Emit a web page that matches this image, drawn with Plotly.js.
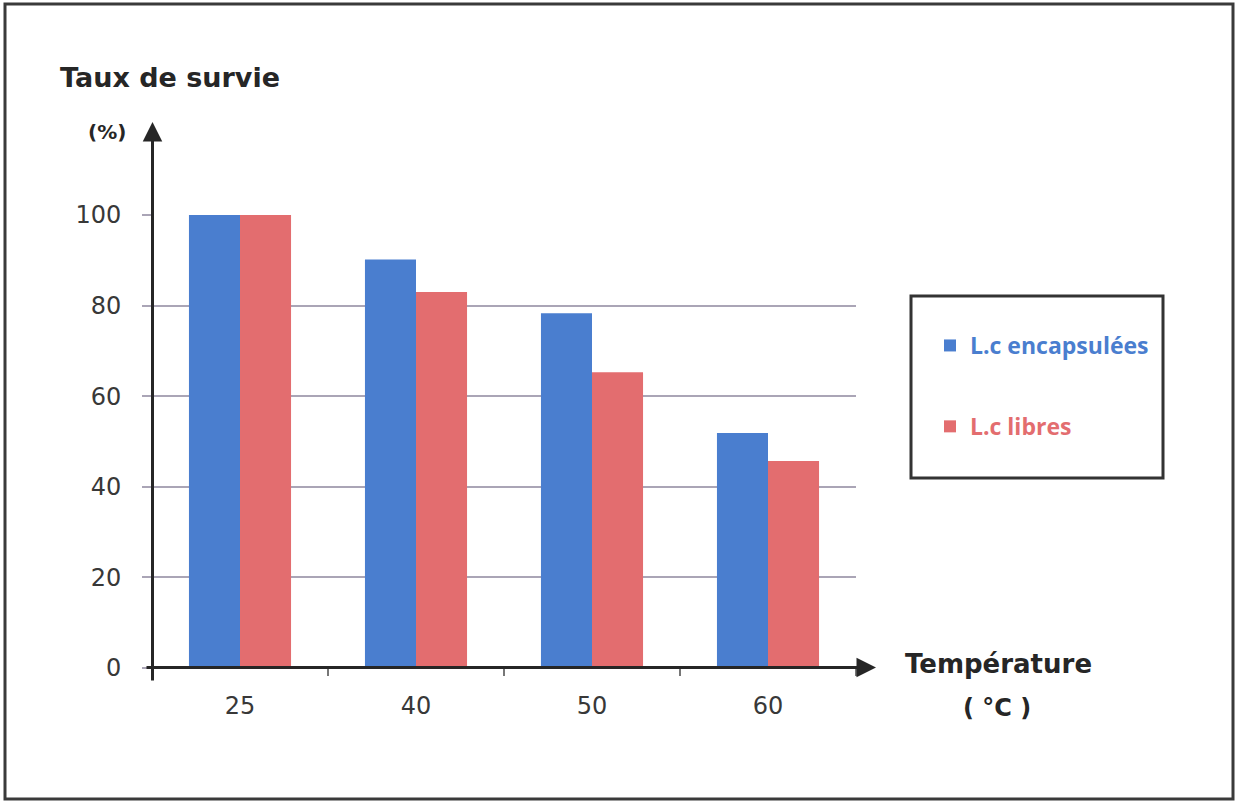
<!DOCTYPE html>
<html>
<head>
<meta charset="utf-8">
<script src="https://cdn.plot.ly/plotly-3.0.1.min.js"></script>
<style>
  html, body { margin: 0; padding: 0; background: #ffffff; }
  #chart { width: 1239px; height: 803px; }
</style>
</head>
<body>
<div id="chart"></div>
<script>
// Survival rate (%) of L.c cells after heat treatment at each temperature
const categories = ['25', '40', '50', '60'];
const encapsulees = [100, 90.2, 78.3, 51.9];
const libres = [100, 83.0, 65.3, 45.7];
const yTicks = [0, 20, 40, 60, 80, 100];
const seriesNames = ['L.c encapsulées', 'L.c libres'];

const W = 1239, H = 803;
const plotL = 152, plotR = 856, plotT = 215, plotB = 668;
const blue = '#4a7ecf';
const red = '#e36d6f';
const gridColor = '#aaa5b6';
const ink = '#262626';

// pixel -> paper helpers for the decorations
const px = x => (x - plotL) / (plotR - plotL);
const py = y => (plotB - y) / (plotB - plotT);

const traces = [
  {
    type: 'bar', x: categories, y: encapsulees,
    name: '<span style="color:' + blue + '">' + seriesNames[0] + '</span>',
    marker: { color: blue }, legendgroup: 'a', hoverinfo: 'y'
  },
  {
    type: 'bar', x: categories, y: libres,
    name: '<span style="color:' + red + '">' + seriesNames[1] + '</span>',
    marker: { color: red }, legendgroup: 'b', hoverinfo: 'y'
  }
];

const tickFont = { family: 'DejaVu Sans, sans-serif', size: 24, color: '#383838' };
const titleFont = size => ({ family: 'DejaVu Sans, sans-serif', size: size, color: ink });

const layout = {
  width: W, height: H,
  margin: { l: plotL, r: W - plotR, t: plotT, b: H - plotB },
  paper_bgcolor: '#ffffff', plot_bgcolor: '#ffffff',
  barmode: 'group', bargap: 0.42, bargroupgap: 0,
  font: { family: 'DejaVu Sans, sans-serif', color: '#333333' },
  xaxis: {
    type: 'category', range: [-0.5, 3.5],
    showline: false, showgrid: false, zeroline: false,
    ticks: 'outside', tickson: 'boundaries', ticklen: 7, tickwidth: 2, tickcolor: '#777777',
    ticklabelstandoff: 21,
    tickfont: tickFont
  },
  yaxis: {
    range: [0, 100], tickvals: yTicks, ticktext: yTicks.map(String),
    showline: false, zeroline: false,
    showgrid: true, gridcolor: gridColor, gridwidth: 2,
    ticks: 'outside', ticklen: 9, tickwidth: 2, tickcolor: gridColor,
    ticklabelstandoff: 16,
    tickfont: tickFont
  },
  showlegend: true,
  legend: {
    x: px(930), y: py(324), xanchor: 'left', yanchor: 'top',
    bgcolor: 'rgba(0,0,0,0)', borderwidth: 0,
    traceorder: 'grouped', tracegroupgap: 48,
    font: { family: 'Open Sans, sans-serif', size: 23, weight: 'bold' }
  },
  shapes: [
    // outer frame
    { type: 'rect', xref: 'paper', yref: 'paper',
      x0: px(5), x1: px(1233), y0: py(4), y1: py(799),
      line: { color: '#3a3a3a', width: 3 } },
    // legend box
    { type: 'rect', xref: 'paper', yref: 'paper',
      x0: px(911), x1: px(1163), y0: py(296), y1: py(478),
      line: { color: '#333333', width: 3 } }
  ],
  annotations: [
    // y axis with arrow
    { xref: 'paper', x: px(152.5), yref: 'paper', y: py(122), text: '',
      showarrow: true, ax: 0, ay: 682 - 122, axref: 'pixel', ayref: 'pixel',
      arrowhead: 2, arrowsize: 1.3, arrowwidth: 3, arrowcolor: ink },
    // x axis with arrow
    { xref: 'paper', x: px(876), yref: 'paper', y: py(667.5), text: '',
      showarrow: true, ax: -(876 - 145), ay: 0, axref: 'pixel', ayref: 'pixel',
      arrowhead: 2, arrowsize: 1.3, arrowwidth: 3, arrowcolor: ink },
    // axis titles
    { xref: 'paper', yref: 'paper', x: px(170), y: py(77), xanchor: 'center', yanchor: 'middle',
      showarrow: false, text: '<b>Taux de survie</b>', font: titleFont(27) },
    { xref: 'paper', yref: 'paper', x: px(107), y: py(132), xanchor: 'center', yanchor: 'middle',
      showarrow: false, text: '<b>(%)</b>', font: titleFont(20) },
    { xref: 'paper', yref: 'paper', x: px(998), y: py(664), xanchor: 'center', yanchor: 'middle',
      showarrow: false, text: '<b>Température</b>', font: titleFont(26) },
    { xref: 'paper', yref: 'paper', x: px(997), y: py(708), xanchor: 'center', yanchor: 'middle',
      showarrow: false, text: '<b>( °C )</b>', font: titleFont(24) }
  ]
};

Plotly.newPlot('chart', traces, layout, { displayModeBar: false, staticPlot: true });
</script>
</body>
</html>
